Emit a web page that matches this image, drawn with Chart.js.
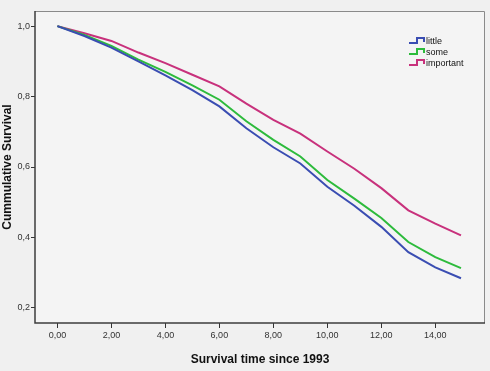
<!DOCTYPE html>
<html>
<head>
<meta charset="utf-8">
<script src="https://cdn.jsdelivr.net/npm/chart.js@4/dist/chart.umd.min.js"></script>
<style>
  html, body { margin: 0; padding: 0; background: #f0f0f0; }
  #wrap { width: 490px; height: 371px; }
</style>
</head>
<body>
<div id="wrap"><canvas id="survChart"></canvas></div>
<script>
// survival time (years since 1993)
const years = [0, 1, 2, 3, 4, 5, 6, 7, 8, 9, 10, 11, 12, 13, 14, 14.95];
const groups = ['little', 'some', 'important'];
const survLittle = [1.0, 0.972, 0.939, 0.900, 0.860, 0.818, 0.772, 0.710, 0.656, 0.610, 0.544, 0.490, 0.430, 0.358, 0.315, 0.284];
const survSome = [1.0, 0.975, 0.944, 0.905, 0.870, 0.832, 0.791, 0.730, 0.677, 0.630, 0.563, 0.510, 0.455, 0.387, 0.344, 0.313];
const survImportant = [1.0, 0.980, 0.958, 0.925, 0.895, 0.862, 0.829, 0.780, 0.734, 0.695, 0.644, 0.595, 0.540, 0.477, 0.439, 0.406];
const xTicks = [0, 2, 4, 6, 8, 10, 12, 14];
const yTicks = [0.2, 0.4, 0.6, 0.8, 1.0];

const colors = ['#3a4db2', '#2dbb3c', '#c8317c'];
const series = [survLittle, survSome, survImportant];

function toPoints(vals) {
    return vals.map((v, i) => ({ x: years[i], y: v }));
}

// plot frame + light fill
const framePlugin = {
    id: 'frame',
    beforeDraw(chart) {
        const { ctx, chartArea: a } = chart;
        ctx.save();
        ctx.fillStyle = '#f4f4f4';
        ctx.fillRect(a.left, a.top, a.right - a.left, a.bottom - a.top);
        ctx.restore();
    },
    afterDraw(chart) {
        const { ctx, chartArea: a } = chart;
        ctx.save();
        ctx.strokeStyle = '#8a8a8a';
        ctx.lineWidth = 1;
        ctx.beginPath();
        ctx.moveTo(a.left, a.top + 0.5);
        ctx.lineTo(a.right - 0.5, a.top + 0.5);
        ctx.lineTo(a.right - 0.5, a.bottom);
        ctx.stroke();
        ctx.strokeStyle = '#3c3c3c';
        ctx.lineWidth = 1.5;
        ctx.beginPath();
        ctx.moveTo(a.left, a.top);
        ctx.lineTo(a.left, a.bottom);
        ctx.lineTo(a.right, a.bottom);
        ctx.stroke();

        // legend inside the plot, step-shaped markers
        const lx = 409, ly = 41;
        chart.data.datasets.forEach((ds, i) => {
            const y = ly + i * 11;
            ctx.strokeStyle = ds.borderColor;
            ctx.lineWidth = 2;
            ctx.beginPath();
            ctx.moveTo(lx, y + 2);
            ctx.lineTo(lx + 8, y + 2);
            ctx.lineTo(lx + 8, y - 3);
            ctx.lineTo(lx + 15, y - 3);
            ctx.lineTo(lx + 15, y + 1);
            ctx.stroke();
            ctx.fillStyle = '#111';
            ctx.font = '9px "Liberation Sans", Arial, sans-serif';
            ctx.textBaseline = 'middle';
            ctx.fillText(ds.label, lx + 17, y + 0.5);
        });
        ctx.restore();
    }
};

new Chart(document.getElementById('survChart').getContext('2d'), {
    type: 'line',
    data: {
        datasets: groups.map((g, i) => ({
            label: g,
            data: toPoints(series[i]),
            borderColor: colors[i],
            borderWidth: 2,
            pointRadius: 0,
            tension: 0,
            fill: false
        }))
    },
    options: {
        responsive: true,
        maintainAspectRatio: false,
        animation: false,
        layout: { padding: { top: 11, right: 5, left: 0, bottom: 0 } },
        plugins: {
            legend: { display: false },
            tooltip: { enabled: false }
        },
        scales: {
            x: {
                type: 'linear',
                min: -0.83,
                max: 15.84,
                afterBuildTicks: s => { s.ticks = xTicks.map(v => ({ value: v })); },
                afterFit: s => { s.height = 48; },
                border: { display: false },
                grid: { drawOnChartArea: false, tickLength: 5, color: '#333', lineWidth: 1 },
                ticks: {
                    color: '#333',
                    font: { family: '"Liberation Sans", Arial, sans-serif', size: 9 },
                    padding: 2,
                    maxRotation: 0,
                    callback: v => v.toFixed(2).replace('.', ',')
                },
                title: {
                    display: true,
                    text: 'Survival time since 1993',
                    color: '#111',
                    font: { family: '"Liberation Sans", Arial, sans-serif', size: 12, weight: 'bold' },
                    padding: { top: 8 }
                }
            },
            y: {
                min: 0.157,
                max: 1.043,
                afterBuildTicks: s => { s.ticks = yTicks.map(v => ({ value: v })); },
                afterFit: s => { s.width = 35; },
                border: { display: false },
                grid: { drawOnChartArea: false, tickLength: 4, color: '#333', lineWidth: 1 },
                ticks: {
                    color: '#333',
                    font: { family: '"Liberation Sans", Arial, sans-serif', size: 9 },
                    padding: 1,
                    callback: v => v.toFixed(1).replace('.', ',')
                },
                title: {
                    display: true,
                    text: 'Cummulative Survival',
                    color: '#111',
                    font: { family: '"Liberation Sans", Arial, sans-serif', size: 12, weight: 'bold' },
                    padding: { top: 0, bottom: 0 }
                }
            }
        }
    },
    plugins: [framePlugin]
});
</script>
</body>
</html>
